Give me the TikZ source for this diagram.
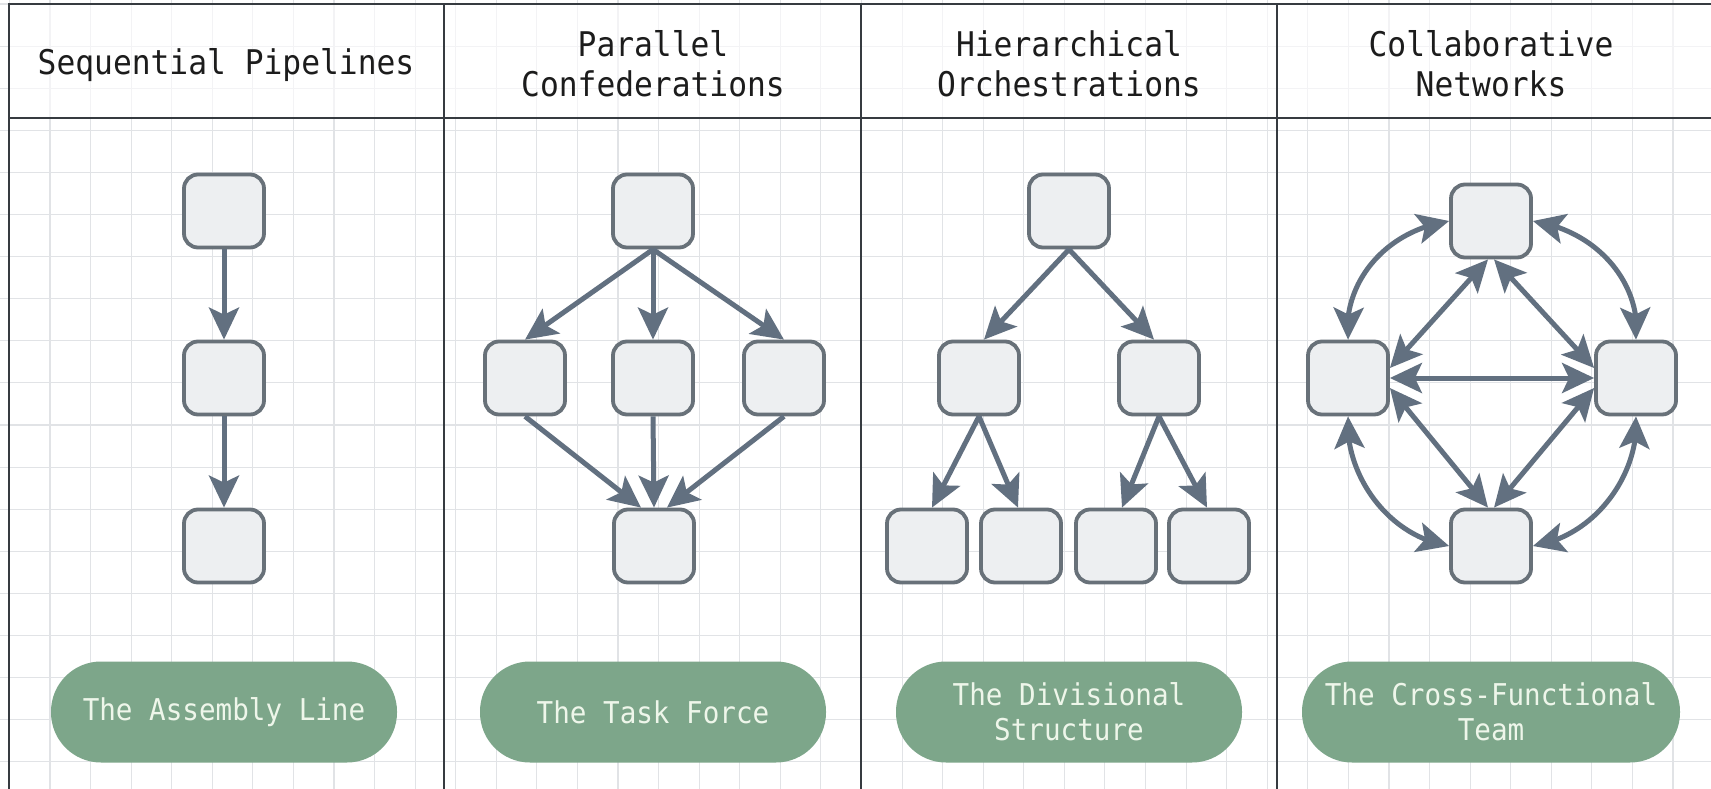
\documentclass[tikz,border=0pt]{standalone}
\usepackage{fontspec}
\usetikzlibrary{arrows.meta,bending,calc}
\newfontfamily\hfont[FakeStretch=0.92]{DejaVu Sans Mono}
\definecolor{gridc}{HTML}{E1E3E6}
\definecolor{framec}{HTML}{363B40}
\definecolor{boxfill}{HTML}{EDEFF1}
\definecolor{boxline}{HTML}{687179}
\definecolor{arrowc}{HTML}{627080}
\definecolor{pillc}{HTML}{7DA68A}
\definecolor{pilltext}{HTML}{EEF6EA}
\definecolor{headtext}{HTML}{1C1C1C}
\begin{document}
\begin{tikzpicture}[x=1pt,y=-1pt,
 box/.style={draw=boxline, fill=boxfill, line width=3.8pt, rounded corners=14pt, minimum width=80pt, minimum height=73pt, inner sep=0pt},
 arr/.style={draw=arrowc, line width=5pt, -{Stealth[length=32pt,width=30pt,inset=7pt]}},
 darr/.style={draw=arrowc, line width=5pt, {Stealth[length=32pt,width=30pt,inset=7pt]}-{Stealth[length=32pt,width=30pt,inset=7pt]}},
 pill/.style={rectangle, rounded corners=50pt, fill=pillc, text=pilltext, minimum width=346pt, minimum height=101pt, inner sep=0pt, align=center, font=\hfont\fontsize{30}{35}\selectfont},
 head/.style={text=headtext, align=center, font=\hfont\fontsize{34}{40}\selectfont, inner sep=0pt},
 frame/.style={draw=framec, line width=2.5pt},
 gridline/.style={draw=gridc, line width=1.1pt}]
\useasboundingbox (0,0) rectangle (1711,789);
\fill[white] (0,0) rectangle (1711,789);
% grid
\foreach \i in {0,...,41} \draw[gridline] ({9.4+40.575*\i},0) -- ++(0,789);
\foreach \j in {0,...,18} \draw[gridline] (0,{4+42.1*\j}) -- ++(1711,0);
% header band
\fill[white,opacity=0.6] (9,4) rectangle (1711,118);
% frame
\draw[frame] (9,789) -- (9,4) -- (1711,4);
\draw[frame] (9,118) -- (1711,118);
\foreach \x in {444,861,1277} \draw[frame] (\x,4) -- (\x,789);
% headers
\node[head,anchor=base] (h1) at (226,75) {Sequential Pipelines};
\node[head] (h2) at (653,64) {Parallel\\Confederations};
\node[head] (h3) at (1069,64) {Hierarchical\\Orchestrations};
\node[head] (h4) at (1491,64) {Collaborative\\Networks};
% panel 1
\node[box] (a1) at (224,211) {};
\node[box] (a2) at (224,378) {};
\node[box] (a3) at (224,546) {};
\draw[arr] (a1) -- (a2);
\draw[arr] (a2) -- (a3);
% panel 2
\node[box] (b0) at (653,211) {};
\node[box] (b1) at (525,378) {};
\node[box] (b2) at (653,378) {};
\node[box] (b3) at (784,378) {};
\node[box] (b4) at (654,546) {};
\draw[arr] (b0.south) -- (b1.north);
\draw[arr] (b0.south) -- (b2.north);
\draw[arr] (b0.south) -- (b3.north);
\draw[arr] (b1.south) -- ($(b4.north)+(-13,0)$);
\draw[arr] (b2.south) -- (b4.north);
\draw[arr] (b3.south) -- ($(b4.north)+(13,0)$);
% panel 3
\node[box] (c0) at (1069,211) {};
\node[box] (c1) at (979,378) {};
\node[box] (c2) at (1159,378) {};
\node[box] (c3) at (927,546) {};
\node[box] (c4) at (1021,546) {};
\node[box] (c5) at (1116,546) {};
\node[box] (c6) at (1209,546) {};
\draw[arr] (c0.south) -- ($(c1.north)+(5,0)$);
\draw[arr] (c0.south) -- ($(c2.north)+(-5,0)$);
\draw[arr] (c1.south) -- ($(c3.north)+(5,0)$);
\draw[arr] (c1.south) -- ($(c4.north)+(-3,0)$);
\draw[arr] (c2.south) -- ($(c5.north)+(6,0)$);
\draw[arr] (c2.south) -- ($(c6.north)+(-2,0)$);
% panel 4
\node[box] (d0) at (1491,221) {};
\node[box] (dl) at (1348,378) {};
\node[box] (dr) at (1636,378) {};
\node[box] (db) at (1491,546) {};
\draw[darr] (d0.west) .. controls (1380,232) and (1342,288) .. (dl.north);
\draw[darr] (d0.east) .. controls (1602,232) and (1642,288) .. (dr.north);
\draw[darr] (dl.south) .. controls (1344,472) and (1386,536) .. (db.west);
\draw[darr] (dr.south) .. controls (1640,472) and (1597,536) .. (db.east);
\draw[darr] ($(d0.south)+(-3,0)$) -- ($(dl.east)+(0,-10)$);
\draw[darr] ($(d0.south)+(3,0)$) -- ($(dr.west)+(0,-10)$);
\draw[darr] (dl.east) -- (dr.west);
\draw[darr] ($(dl.east)+(0,10)$) -- ($(db.north)+(-3,0)$);
\draw[darr] ($(dr.west)+(0,10)$) -- ($(db.north)+(3,0)$);
% pills
\node[pill] (p1) at (224,712) {The Assembly Line};
\node[pill] (p2) at (653,712) {The Task Force};
\node[pill] (p3) at (1069,712) {The Divisional\\Structure};
\node[pill,minimum width=378pt] (p4) at (1491,712) {The Cross-Functional\\Team};
\end{tikzpicture}
\end{document}
